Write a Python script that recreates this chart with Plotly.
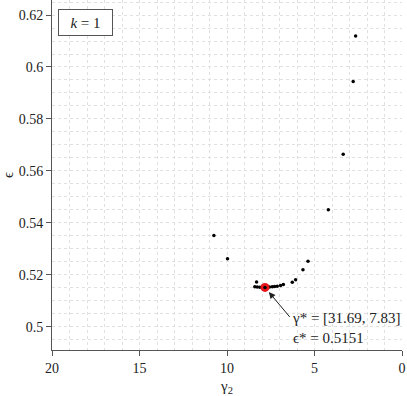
import plotly.graph_objects as go

# Data
gamma2 = [2.65, 2.79, 3.36, 4.21, 10.75, 9.97, 5.37, 5.66, 6.08, 6.27, 6.78, 8.31,
          8.41, 8.27, 8.12, 7.99, 7.70, 7.57, 7.41, 7.28, 7.13, 6.94]
eps = [0.6119, 0.5944, 0.5664, 0.5450, 0.5351, 0.5261, 0.5252, 0.5219, 0.5181, 0.5171, 0.5162, 0.5172,
       0.5154, 0.5153, 0.5152, 0.5152, 0.5152, 0.5153, 0.5154, 0.5155, 0.5156, 0.5158]
gamma_star = [31.69, 7.83]
eps_star = 0.5151

x_ticks = [20, 15, 10, 5, 0]
y_ticks = [0.5, 0.52, 0.54, 0.56, 0.58, 0.6, 0.62]

FONT = "Liberation Serif"
AX = "#555555"
GRID = "#e0e0e0"

fig = go.Figure()
fig.add_trace(go.Scatter(x=gamma2, y=eps, mode="markers",
                         marker=dict(symbol="circle", size=3.5, color="black"),
                         showlegend=False, hoverinfo="skip"))
fig.add_trace(go.Scatter(x=[gamma_star[1]], y=[eps_star], mode="markers",
                         marker=dict(symbol="circle", size=9, color="#e8141a"),
                         showlegend=False))
fig.add_trace(go.Scatter(x=[gamma_star[1]], y=[eps_star], mode="markers",
                         marker=dict(symbol="circle", size=3.5, color="black"),
                         showlegend=False))

axis_common = dict(showline=True, linecolor=AX, linewidth=1, mirror=False,
                   ticks="outside", ticklen=5, tickcolor=AX, zeroline=False,
                   showgrid=True, gridcolor=GRID, griddash="dot", gridwidth=1,
                   tickfont=dict(family=FONT, size=14, color="#222"), automargin=False)

fig.update_xaxes(range=[20, 0], tickvals=x_ticks, ticktext=[str(v) for v in x_ticks],
                 minor=dict(dtick=1, tick0=0, showgrid=True, gridcolor=GRID, griddash="dot", ticks=""),
                 title=dict(text="γ<sub>2</sub>", font=dict(family=FONT, size=15, color="#222"), standoff=8),
                 **axis_common)
fig.update_yaxes(range=[0.491, 0.6258], tickvals=y_ticks, ticktext=[f"{v:g}" for v in y_ticks],
                 minor=dict(dtick=0.005, tick0=0.5, showgrid=True, gridcolor=GRID, griddash="dot", ticks=""),
                 title=dict(text="ϵ", font=dict(family=FONT, size=15, color="#222"), standoff=10),
                 **axis_common)

# arrow
fig.add_annotation(x=gamma_star[1], y=eps_star, xref="x", yref="y", text="",
                   showarrow=True, ax=26, ay=31, arrowhead=2, arrowsize=1.3,
                   arrowwidth=1, arrowcolor="#222", standoff=6)
# label text
fig.add_annotation(x=6.42, y=0.5072, xref="x", yref="y", xanchor="left", yanchor="top",
                   text=f"γ* = [{gamma_star[0]:.2f}, {gamma_star[1]:.2f}]<br>ϵ* = {eps_star:.4f}",
                   align="left", showarrow=False,
                   font=dict(family=FONT, size=15, color="#222"))
# k=1 box
fig.add_annotation(x=0.0966, y=0.936, xref="paper", yref="paper", xanchor="center", yanchor="middle",
                   text="<i>k</i> = 1", showarrow=False, width=47, height=19, borderpad=3,
                   bordercolor=AX, borderwidth=1, bgcolor="white",
                   font=dict(family=FONT, size=15, color="#222"))

fig.update_layout(width=407, height=396, margin=dict(l=52, r=5, t=0, b=46),
                  plot_bgcolor="white", paper_bgcolor="white",
                  font=dict(family=FONT, color="#222"))

fig.write_html("out.html", config={"displayModeBar": False},
               post_script="document.body.style.margin='0';document.body.style.padding='0';")
